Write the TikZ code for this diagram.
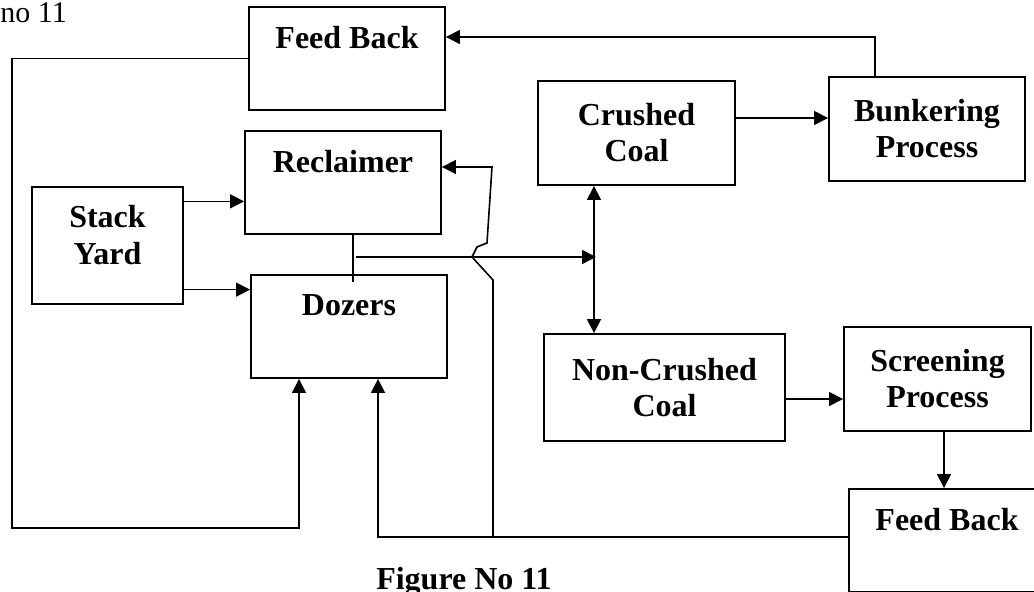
\documentclass[tikz,border=0pt]{standalone}
\usepackage{fontspec}
\setmainfont{Liberation Serif}
\usepackage{tikz}
\usetikzlibrary{arrows.meta}
\tikzstyle{block}=[rectangle, draw=black, line width=0.95pt, inner sep=0pt, align=center, font=\fontsize{16pt}{18pt}\selectfont\bfseries]
\tikzstyle{toplabel}=[anchor=north, inner sep=0pt, yshift=-10pt, align=center, font=\fontsize{16pt}{18.5pt}\selectfont\bfseries]
\tikzstyle{arrow}=[draw=black, line width=0.8pt, >={Triangle[length=7pt,width=7pt]}]

\begin{document}
\begin{tikzpicture}[x=0.5pt, y=-0.5pt]
		   \path[use as bounding box, clip] (0, 0) rectangle (1034, 592);
		   \begin{scope}
			   \node (fbtop) at (347, 58.5)[block, minimum width=98pt, minimum height=51.5pt, label={[toplabel]north:Feed Back}] {};
			   \node (reclaimer) at (343, 182.5)[block, minimum width=98pt, minimum height=51.5pt, label={[toplabel]north:Reclaimer}] {};
			   \node (stack) at (107.5, 245.5)[block, minimum width=75.5pt, minimum height=58.5pt, label={[toplabel, yshift=0.5pt]north:Stack\\Yard}] {};
			   \node (dozers) at (349, 326.5)[block, minimum width=98pt, minimum height=51.5pt, label={[toplabel]north:Dozers}] {};
			   \node (crushed) at (636.5, 133)[block, minimum width=98.5pt, minimum height=52pt] {Crushed\\Coal};
			   \node (bunker) at (927, 129)[block, minimum width=98pt, minimum height=52pt] {Bunkering\\Process};
			   \node (noncrushed) at (664.5, 387.5)[block, minimum width=120.5pt, minimum height=53.5pt] {Non-Crushed\\Coal};
			   \node (screening) at (937.5, 379)[block, minimum width=93.5pt, minimum height=52pt] {Screening\\Process};
			   \node (fbbot) at (947, 540.5)[block, minimum width=98pt, minimum height=51.5pt, label={[toplabel]north:Feed Back}] {};
			   \node (caption) at (464, 590)[anchor=base, inner sep=0pt, font=\fontsize{16pt}{18.5pt}\selectfont\bfseries] {Figure No 11};
			   \node (partcap) at (0, 23)[anchor=base west, inner sep=0pt, font=\fontsize{15pt}{18pt}\selectfont] {no 11};
		   \end{scope}
		   \begin{scope}
			   \coordinate (bk) at (875, 37);
			   \draw[arrow, ->] (bk |- bunker.north) -- (bk) -- (bk -| fbtop.east);
			   \coordinate (cb) at ([yshift=7.5pt]crushed.east);
			   \draw[arrow, ->] (cb) -- (cb -| bunker.west);
			   \draw[arrow, ->] (stack.30) -- (stack.30 -| reclaimer.west);
			   \draw[arrow, ->] (stack.-30) -- (stack.-30 -| dozers.west);
			   \coordinate (rd) at (353, 282);
			   \draw[arrow] (rd |- reclaimer.south) -- (rd);
			   \coordinate (rdout) at (356, 257);
			   \coordinate (split) at (594, 257);
			   \draw[arrow, ->] (rdout) -- ([xshift=1pt]split);
			   \draw[arrow, <->] (split |- crushed.south) -- (split |- noncrushed.north);
			   \coordinate (ns) at ([yshift=-5.75pt]noncrushed.east);
			   \draw[arrow, ->] (ns) -- (ns -| screening.west);
			   \coordinate (sf) at (944, 460);
			   \draw[arrow, ->] (sf |- screening.south) -- (sf |- fbbot.north);
			   \coordinate (fl) at (12, 528);
			   \coordinate (fa) at (299, 528);
			   \draw[arrow, ->] (fbtop.west) -| (fl) -- (fa) -- (fa |- dozers.south);
			   \coordinate (fb) at (378, 537);
			   \draw[arrow, ->] (fb -| fbbot.west) -- (fb) -- (fb |- dozers.south);
			   \coordinate (zb) at (493, 537);
			   \coordinate (zt) at (492, 167);
			   \draw[arrow, ->] (zb) -- (493, 280) -- (472, 257) -- (477, 247) -- (487, 243) -- (zt) -- (zt -| reclaimer.east);
		   \end{scope}
	   \end{tikzpicture}
\end{document}
